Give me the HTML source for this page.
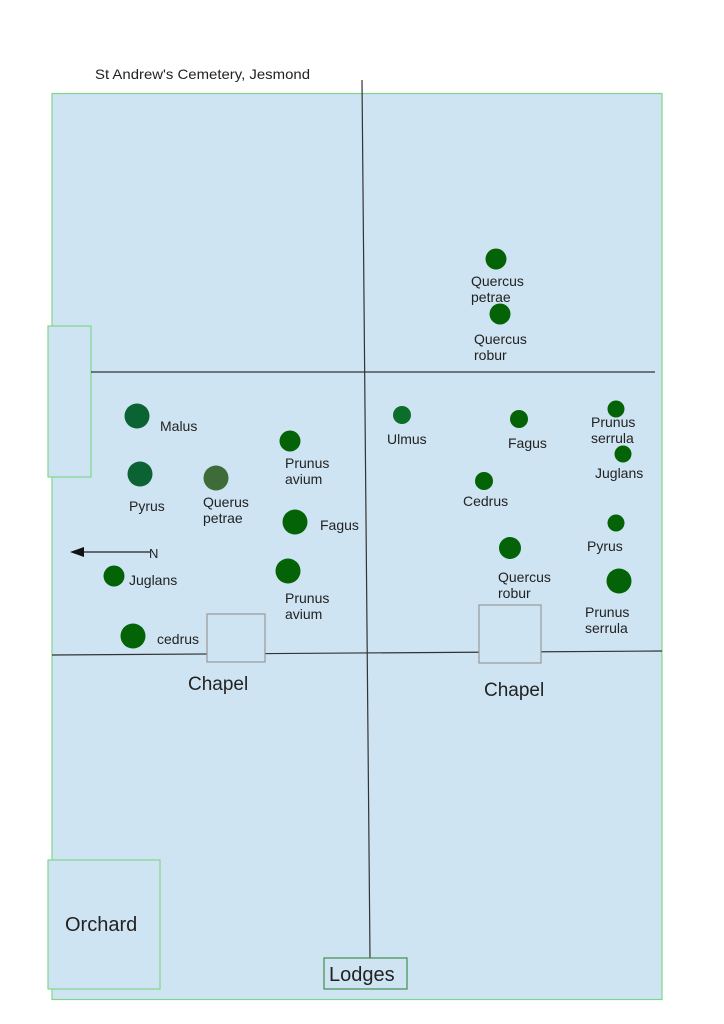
<!DOCTYPE html>
<html><head><meta charset="utf-8"><style>
html,body{margin:0;padding:0;background:#fff;}
svg{display:block;}
text{font-family:"Liberation Sans",sans-serif;fill:#222;}
</style></head><body>
<svg width="724" height="1024" viewBox="0 0 724 1024" xmlns="http://www.w3.org/2000/svg">
<rect x="0" y="0" width="724" height="1024" fill="#fff"/>
<text x="95" y="79" font-size="14" textLength="215" lengthAdjust="spacingAndGlyphs">St  Andrew's Cemetery, Jesmond</text>
<rect x="52" y="93.5" width="610" height="906" fill="#cfe4f2" stroke="#7fd68a" stroke-width="1.2"/>
<rect x="48" y="326" width="43" height="151" fill="#cfe4f2" stroke="#7fd68a" stroke-width="1.2"/>
<line x1="362" y1="80" x2="370" y2="958" stroke="#333" stroke-width="1.2"/>
<line x1="91" y1="372" x2="655" y2="372" stroke="#333" stroke-width="1.2"/>
<line x1="52" y1="655" x2="662" y2="651" stroke="#333" stroke-width="1.2"/>
<rect x="207" y="614" width="58" height="48" fill="#cfe4f2" stroke="#999" stroke-width="1.2"/>
<rect x="479" y="605" width="62" height="58" fill="#cfe4f2" stroke="#999" stroke-width="1.2"/>
<text x="188" y="690" font-size="19">Chapel</text>
<text x="484" y="696" font-size="19">Chapel</text>
<rect x="48" y="860" width="112" height="129" fill="#cfe4f2" stroke="#7fd68a" stroke-width="1.2"/>
<text x="65" y="931" font-size="20">Orchard</text>
<rect x="324" y="958" width="83" height="31" fill="#cfe4f2" stroke="#3f8f4f" stroke-width="1.2"/>
<text x="329" y="981" font-size="20">Lodges</text>
<line x1="80" y1="552" x2="150" y2="552" stroke="#222" stroke-width="1.2"/>
<polygon points="70,552 84,547 84,557" fill="#111"/>
<text x="149" y="558" font-size="13">N</text>
<g font-size="14">
<circle cx="137" cy="416" r="12.5" fill="#0b6232"/><text x="160" y="431">Malus</text>
<circle cx="140" cy="474" r="12.5" fill="#0b6232"/><text x="129" y="511">Pyrus</text>
<circle cx="216" cy="478" r="12.5" fill="#3f6b39"/><text x="203" y="507">Querus</text><text x="203" y="523">petrae</text>
<circle cx="290" cy="441" r="10.5" fill="#036306"/><text x="285" y="468">Prunus</text><text x="285" y="484">avium</text>
<circle cx="295" cy="522" r="12.5" fill="#036306"/><text x="320" y="530">Fagus</text>
<circle cx="114" cy="576" r="10.5" fill="#036306"/><text x="129" y="585">Juglans</text>
<circle cx="288" cy="571" r="12.5" fill="#036306"/><text x="285" y="603">Prunus</text><text x="285" y="619">avium</text>
<circle cx="133" cy="636" r="12.5" fill="#036306"/><text x="157" y="644">cedrus</text>
<circle cx="496" cy="259" r="10.5" fill="#036306"/><text x="471" y="286">Quercus</text><text x="471" y="302">petrae</text>
<circle cx="500" cy="314" r="10.5" fill="#036306"/><text x="474" y="344">Quercus</text><text x="474" y="360">robur</text>
<circle cx="402" cy="415" r="9" fill="#0b6e2a"/><text x="387" y="444">Ulmus</text>
<circle cx="519" cy="419" r="9" fill="#036306"/><text x="508" y="448">Fagus</text>
<circle cx="616" cy="409" r="8.5" fill="#036306"/><text x="591" y="427">Prunus</text><text x="591" y="443">serrula</text>
<circle cx="623" cy="454" r="8.5" fill="#036306"/><text x="595" y="478">Juglans</text>
<circle cx="484" cy="481" r="9" fill="#036306"/><text x="463" y="506">Cedrus</text>
<circle cx="616" cy="523" r="8.5" fill="#036306"/><text x="587" y="551">Pyrus</text>
<circle cx="510" cy="548" r="11" fill="#036306"/><text x="498" y="582">Quercus</text><text x="498" y="598">robur</text>
<circle cx="619" cy="581" r="12.5" fill="#036306"/><text x="585" y="617">Prunus</text><text x="585" y="633">serrula</text>
</g>
</svg>
</body></html>
